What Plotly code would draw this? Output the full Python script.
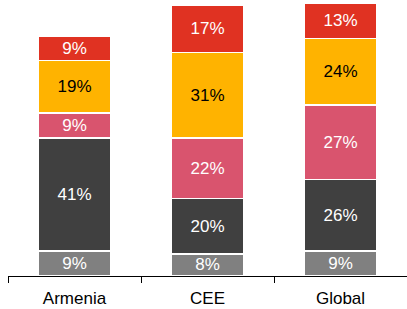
import plotly.graph_objects as go

categories = ["Armenia", "CEE", "Global"]
series_names = ["S1", "S2", "S3", "S4", "S5"]
values = {
    "S1": [9, 8, 9],
    "S2": [41, 20, 26],
    "S3": [9, 22, 27],
    "S4": [19, 31, 24],
    "S5": [9, 17, 13],
}
colors = ["#808080", "#404040", "#d9546e", "#ffb300", "#e03222"]
text_colors = ["white", "white", "white", "black", "white"]

fig = go.Figure()
for name, c, tc in zip(series_names, colors, text_colors):
    v = values[name]
    fig.add_trace(go.Bar(
        x=categories, y=v, name=name,
        marker=dict(color=c, line=dict(color="white", width=1.5)),
        text=[f"{x}%" for x in v], textposition="inside", insidetextanchor="middle",
        textfont=dict(color=tc, size=17, family="Liberation Sans, Arial"),
        textangle=0, constraintext="none",
    ))

fig.update_layout(
    barmode="stack", bargap=0.45,
    width=407, height=309,
    margin=dict(l=8, r=0, t=0, b=33),
    plot_bgcolor="white", paper_bgcolor="white",
    showlegend=False,
    uniformtext=dict(minsize=17, mode="show"),
    font=dict(family="Liberation Sans, Arial", size=17, color="black"),
)
fig.update_xaxes(showline=True, linecolor="black", linewidth=1, ticks="outside",
                 tickson="boundaries", ticklen=6, tickcolor="black", showgrid=False,
                 tickfont=dict(size=17), automargin=False, ticklabelstandoff=7)
fig.update_yaxes(range=[0, 100], visible=False, showgrid=False, automargin=False)

fig.write_html("out.html", config={"displayModeBar": False},
               post_script="document.body.style.margin='0';document.body.style.padding='0';")
